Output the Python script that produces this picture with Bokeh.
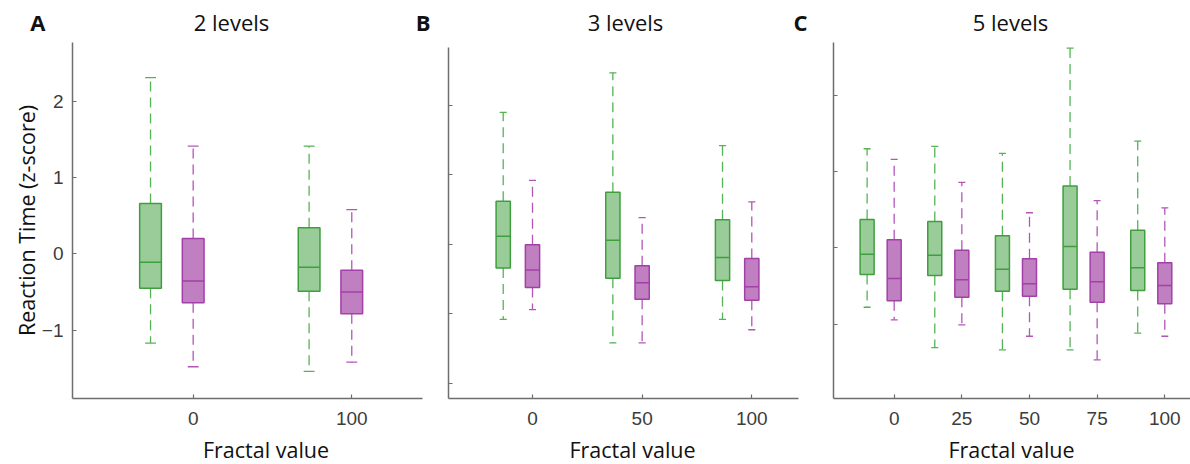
from bokeh.plotting import figure
from bokeh.layouts import row, column
from bokeh.models import ColumnDataSource, FixedTicker, CustomJSTickFormatter, Range1d
from bokeh.core.properties import value
from bokeh.embed import file_html
from bokeh.resources import INLINE

# ---------------- data ----------------
A_groups = ["0", "100"]
A_green_upper = [2.31, 1.41]
A_green_q3 = [0.66, 0.34]
A_green_med = [-0.11, -0.175]
A_green_q1 = [-0.45, -0.49]
A_green_lower = [-1.17, -1.54]
A_purple_upper = [1.41, 0.58]
A_purple_q3 = [0.20, -0.215]
A_purple_med = [-0.355, -0.50]
A_purple_q1 = [-0.64, -0.785]
A_purple_lower = [-1.48, -1.42]

B_groups = ["0", "50", "100"]
B_green_upper = [1.90, 2.47, 1.42]
B_green_q3 = [0.62, 0.75, 0.355]
B_green_med = [0.115, 0.06, -0.19]
B_green_q1 = [-0.34, -0.49, -0.52]
B_green_lower = [-1.08, -1.42, -1.08]
B_purple_upper = [0.92, 0.385, 0.61]
B_purple_q3 = [-0.005, -0.31, -0.205]
B_purple_med = [-0.37, -0.555, -0.61]
B_purple_q1 = [-0.62, -0.79, -0.805]
B_purple_lower = [-0.94, -1.42, -1.23]

C_groups = ["0", "25", "50", "75", "100"]
C_green_upper = [1.30, 1.33, 1.24, 2.62, 1.40]
C_green_q3 = [0.37, 0.345, 0.157, 0.81, 0.23]
C_green_med = [-0.084, -0.097, -0.28, 0.017, -0.26]
C_green_q1 = [-0.35, -0.364, -0.57, -0.543, -0.56]
C_green_lower = [-0.78, -1.31, -1.34, -1.34, -1.12]
C_purple_upper = [1.16, 0.86, 0.46, 0.62, 0.525]
C_purple_q3 = [0.105, -0.031, -0.144, -0.058, -0.197]
C_purple_med = [-0.403, -0.42, -0.472, -0.446, -0.495]
C_purple_q1 = [-0.696, -0.648, -0.635, -0.714, -0.735]
C_purple_lower = [-0.945, -1.01, -1.16, -1.47, -1.16]

titles = ["2 levels", "3 levels", "5 levels"]
panel_letters = ["A", "B", "C"]
x_label = "Fractal value"
y_label = "Reaction Time (z-score)"

# ---------------- styles / layout ----------------
GREEN_EDGE = "#3f9f3f"
GREEN_FILL = "#9acc9a"
GREEN_WHISK = "#55b355"
PURPLE_EDGE = "#a33fa8"
PURPLE_FILL = "#c07fc0"
PURPLE_WHISK = "#b356b8"
AXIS_COLOR = "#6e6e6e"
TICK_TEXT = "#3c3c3c"
TEXT_COLOR = "#111111"
FONT = "Open Sans"
PAGE_W = 1190
HEADER_H = 38
PANEL_H = 396
FOOTER_H = 30
TEXT_SHIFT = 8.5   # compensates the renderer's baseline offset


def draw_boxes(p, n, upper, q3, med, q1, lower, offset, bw, edge, fill, whisk):
    xs = [i + offset for i in range(n)]
    src = ColumnDataSource(dict(
        x=xs,
        left=[x - bw / 2 for x in xs], right=[x + bw / 2 for x in xs],
        cl=[x - bw / 4 for x in xs], cr=[x + bw / 4 for x in xs],
        upper=upper, q3=q3, med=med, q1=q1, lower=lower,
    ))
    p.segment(x0="x", y0="q3", x1="x", y1="upper", source=src,
              line_color=whisk, line_width=1.3, line_dash="10 6")
    p.segment(x0="x", y0="q1", x1="x", y1="lower", source=src,
              line_color=whisk, line_width=1.3, line_dash="10 6")
    p.segment(x0="cl", y0="upper", x1="cr", y1="upper", source=src,
              line_color=whisk, line_width=1.3)
    p.segment(x0="cl", y0="lower", x1="cr", y1="lower", source=src,
              line_color=whisk, line_width=1.3)
    p.quad(left="left", right="right", top="q3", bottom="q1", source=src,
           fill_color=fill, line_color=edge, line_width=1.5)
    p.segment(x0="left", y0="med", x1="right", y1="med", source=src,
              line_color=edge, line_width=1.5)


def make_panel(width, min_left, min_right, xr, yr, ybounds, yticks, ylabels,
               groups, green, purple, offset, bw):
    p = figure(width=width, height=PANEL_H, output_backend="svg", toolbar_location=None,
               title=None, x_range=Range1d(*xr), y_range=Range1d(*yr),
               min_border_left=min_left, min_border_right=min_right,
               min_border_top=4, min_border_bottom=36)
    p.outline_line_color = None
    p.xgrid.visible = False
    p.ygrid.visible = False
    n = len(groups)
    draw_boxes(p, n, *green, offset, bw, GREEN_EDGE, GREEN_FILL, GREEN_WHISK)
    draw_boxes(p, n, *purple, 0.0, bw, PURPLE_EDGE, PURPLE_FILL, PURPLE_WHISK)

    for ax in (p.xaxis[0], p.yaxis[0]):
        ax.axis_line_color = AXIS_COLOR
        ax.axis_line_width = 1.5
        ax.major_tick_line_color = AXIS_COLOR
        ax.major_tick_line_width = 1.2
        ax.major_tick_in = 4
        ax.major_tick_out = 0
        ax.minor_tick_in = 0
        ax.minor_tick_out = 0
        ax.major_label_text_font = "Liberation Sans"
        ax.major_label_text_font_size = "19px"
        ax.major_label_text_color = TICK_TEXT

    p.xaxis.ticker = FixedTicker(ticks=list(range(n)))
    p.xaxis.major_label_overrides = {i: g for i, g in enumerate(groups)}
    p.xaxis.major_label_standoff = 13

    p.yaxis.ticker = FixedTicker(ticks=yticks)
    p.yaxis.bounds = ybounds
    if ylabels:
        p.yaxis.major_label_standoff = 9
        p.yaxis.axis_label = y_label
        p.yaxis.axis_label_text_font = FONT
        p.yaxis.axis_label_text_font_size = "21.5px"
        p.yaxis.axis_label_text_font_style = "normal"
        p.yaxis.axis_label_text_color = TEXT_COLOR
        p.yaxis.axis_label_standoff = -2
    else:
        p.yaxis.formatter = CustomJSTickFormatter(code="return ''")
        p.yaxis.major_label_standoff = 0
    return p


def text_strip(height, y_top):
    f = figure(width=PAGE_W, height=height, output_backend="svg", toolbar_location=None,
               title=None, x_axis_location=None, y_axis_location=None,
               x_range=Range1d(0, PAGE_W), y_range=Range1d(y_top + height, y_top),
               min_border=0)
    f.outline_line_color = None
    f.grid.visible = False
    return f


pA = make_panel(432, 72, 10, (-0.761, 1.446), (-1.896, 2.769), (-1.896, 2.769),
                [-1, 0, 1, 2], True, A_groups,
                (A_green_upper, A_green_q3, A_green_med, A_green_q1, A_green_lower),
                (A_purple_upper, A_purple_q3, A_purple_med, A_purple_q1, A_purple_lower),
                -0.269, 0.137)
pB = make_panel(376, 16, 10, (-0.766, 2.426), (-2.22, 2.906), (-2.22, 2.83),
                [-2, -1, 0, 1, 2], False, B_groups,
                (B_green_upper, B_green_q3, B_green_med, B_green_q1, B_green_lower),
                (B_purple_upper, B_purple_q3, B_purple_med, B_purple_q1, B_purple_lower),
                -0.267, 0.13)
pC = make_panel(382, 25, 0, (-0.897, 4.380), (-1.977, 2.694), (-1.977, 2.694),
                [-1, 0, 1, 2], False, C_groups,
                (C_green_upper, C_green_q3, C_green_med, C_green_q1, C_green_lower),
                (C_purple_upper, C_purple_q3, C_purple_med, C_purple_q1, C_purple_lower),
                -0.40, 0.207)

# header: panel letters and titles
header = text_strip(HEADER_H, 0)
header.text(x=[231, 625, 1010], y=[29.5 - TEXT_SHIFT] * 3, text=titles,
            text_align="center", text_baseline="alphabetic",
            text_font=value(FONT), text_font_size=value("22px"), text_color=TEXT_COLOR)
header.text(x=[37.3, 422.7, 800], y=[29.5 - TEXT_SHIFT] * 3, text=panel_letters,
            text_align="center", text_baseline="alphabetic",
            text_font=value(FONT), text_font_size=value("22px"),
            text_font_style="bold", text_color=TEXT_COLOR)

# footer: x-axis labels
footer = text_strip(FOOTER_H, HEADER_H + PANEL_H)
footer.text(x=[265.5, 632, 1011], y=[457.5 - TEXT_SHIFT] * 3, text=[x_label] * 3,
            text_align="center", text_baseline="alphabetic",
            text_font=value(FONT), text_font_size=value("21.5px"), text_color=TEXT_COLOR)

layout = column(header, row(pA, pB, pC), footer)
open("out.html", "w").write(file_html(layout, INLINE))
